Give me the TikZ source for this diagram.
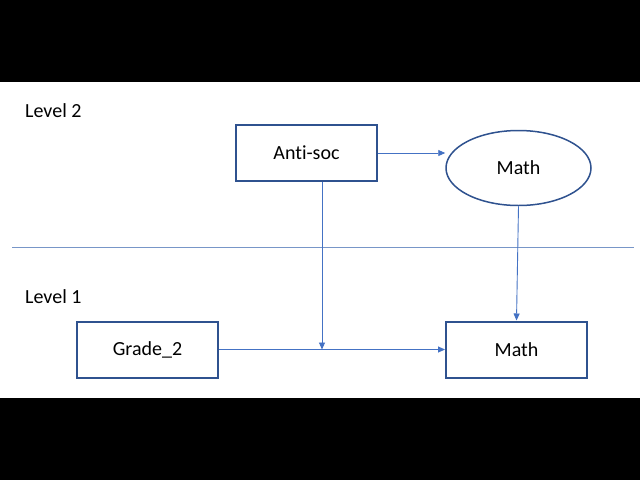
\documentclass[tikz,border=0pt]{standalone}
\usepackage{fontspec}
\setmainfont[Ligatures={NoCommon}]{Carlito}
\usetikzlibrary{arrows.meta,shapes.geometric}
\definecolor{boxblue}{RGB}{47,82,143}
\definecolor{linkblue}{RGB}{68,114,196}
\definecolor{seplin}{RGB}{120,150,200}
\begin{document}
\begin{tikzpicture}[x=1pt,y=-1pt,
  box/.style={draw=boxblue,line width=2pt,minimum width=141pt,minimum height=56pt,inner sep=0pt,font=\fontsize{20}{24}\selectfont},
  oval/.style={ellipse,draw=boxblue,line width=1.5pt,minimum width=145pt,minimum height=75pt,inner sep=0pt,font=\fontsize{20}{24}\selectfont},
  link/.style={draw=linkblue,line width=0.9pt,-{Triangle[length=7pt,width=6pt]}},
  lvl/.style={anchor=west,inner sep=0pt,font=\fontsize{20}{24}\selectfont}]
\fill[black] (0,0) rectangle (640,82);
\fill[white] (0,82) rectangle (640,398);
\fill[black] (0,398) rectangle (640,480);
\useasboundingbox (0,0) rectangle (640,480);
\node[lvl] (l2) at (25,111) {Level 2};
\node[lvl] (l1) at (25,297) {Level 1};
\coordinate (sepL) at (12,247);
\coordinate (sepR) at (634,247);
\draw[seplin,line width=0.8pt] (sepL) -- (sepR);
\node[box] (anti) at (306.5,153) {Anti-soc};
\node[oval] (m2) at (518.5,168) {Math};
\node[box] (grade) at (147.5,349.5) {Grade\_2};
\node[box] (m1) at (516.5,349.5) {Math};
\coordinate (j) at (322,349.5);
\draw[link] (anti.east) -- (m2.west |- anti.east);
\draw[link] (grade.east) -- (m1.west);
\draw[link] (anti.south -| j) -- (j);
\draw[link] (m2.south) -- (m1.north);
\end{tikzpicture}
\end{document}
